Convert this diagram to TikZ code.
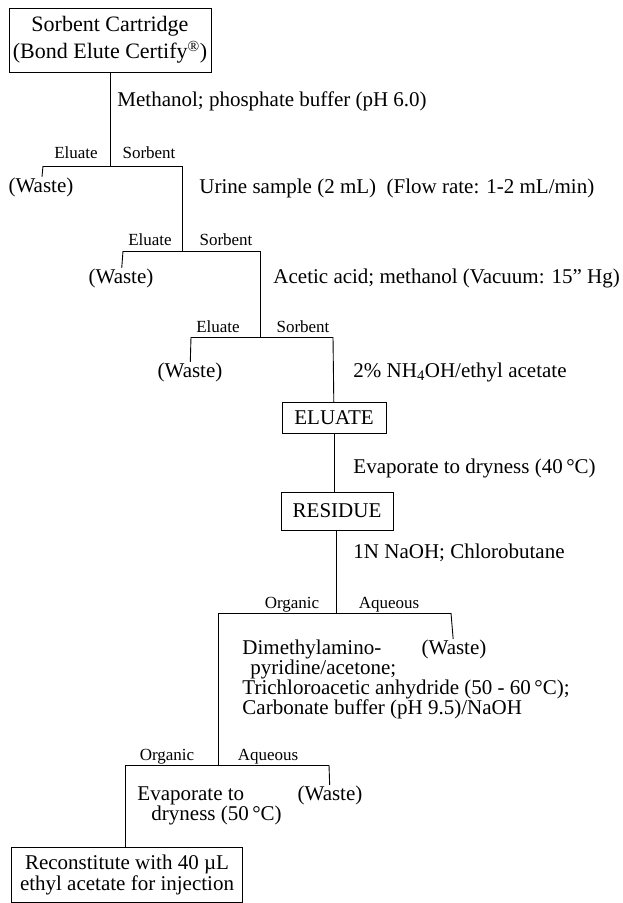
\documentclass[tikz,border=0pt]{standalone}
\usepackage{fontspec}
\setmainfont{Liberation Serif}
\begin{document}
\begin{tikzpicture}[x=1pt,y=-1pt,line width=0.9pt,
  every node/.style={inner sep=0pt,font=\fontsize{21}{21}\selectfont},
  lbl/.style={font=\fontsize{17}{17}\selectfont,anchor=base},
  txt/.style={anchor=base west},
  waste/.style={anchor=base},
  box/.style={draw,line width=0.9pt,align=center}]
\useasboundingbox (0,0) rectangle (623,903);
% top box
\node[box,minimum width=202pt,minimum height=64pt,font=\fontsize{22}{27}\selectfont] (cart) at (110,40)
  {Sorbent Cartridge\\(Bond Elute Certify\textsuperscript{®})};
% T1
\coordinate (j1) at (110,166);
\coordinate (l1) at (43,166);
\coordinate (r1) at (182,166);
\draw (cart) -- (j1);
\draw (l1) -- (r1);
\node[txt] (s1) at (117,106) {Methanol; phosphate buffer (pH 6.0)};
\node[lbl] (e1) at (76,158) {Eluate};
\node[lbl] (o1) at (149,158) {Sorbent};
\node[waste] (w1) at (41,192) {(Waste)};
\draw (l1) -- (w1);
% T2
\coordinate (j2) at (182,251);
\coordinate (l2) at (123,251);
\coordinate (r2) at (260,251);
\draw (r1) -- (j2);
\draw (l2) -- (r2);
\node[txt] (s2) at (199,193) {Urine sample (2 mL)\ \ (Flow rate: 1-2 mL/min)};
\node[lbl] (e2) at (150,245) {Eluate};
\node[lbl] (o2) at (226,245) {Sorbent};
\node[waste] (w2) at (121,283) {(Waste)};
\draw (l2) -- (w2);
% T3
\coordinate (j3) at (260,337);
\coordinate (l3) at (191,337);
\coordinate (r3) at (333,337);
\draw (r2) -- (j3);
\draw (l3) -- (r3);
\node[txt] (s3) at (273,283) {Acetic acid; methanol (Vacuum: 15" Hg)};
\node[lbl] (e3) at (218,332) {Eluate};
\node[lbl] (o3) at (303,332) {Sorbent};
\node[waste] (w3) at (190,377) {(Waste)};
\draw (l3) -- (w3);
\node[txt] (s4) at (353,377) {2\% NH\textsubscript{4}OH/ethyl acetate};
% ELUATE / RESIDUE
\node[box,minimum width=104pt,minimum height=31pt] (eluate) at (334,418) {ELUATE};
\draw (r3) -- (eluate);
\node[txt] (s5) at (353,473) {Evaporate to dryness (40\,°C)};
\node[box,minimum width=112pt,minimum height=38pt] (residue) at (337,511) {RESIDUE};
\draw (eluate) -- (residue.north -| eluate);
\node[txt] (s6) at (353,558) {1N NaOH; Chlorobutane};
% T4
\coordinate (j4) at (336,613);
\coordinate (l4) at (218,613);
\coordinate (r4) at (451,613);
\draw (residue.south -| j4) -- (j4);
\draw (l4) -- (r4);
\node[lbl] (e4) at (292,608) {Organic};
\node[lbl] (o4) at (389,608) {Aqueous};
\node[waste] (w4) at (454,654) {(Waste)};
\draw (r4) -- (w4);
\node[anchor=base west,align=left,font=\fontsize{21}{20}\selectfont] (s7) at (242,714)
  {Dimethylamino-\\\hspace*{8pt}pyridine/acetone;\\Trichloroacetic anhydride (50 - 60\,°C);\\Carbonate buffer (pH 9.5)/NaOH};
% T5
\coordinate (j5) at (218,765);
\coordinate (l5) at (125,765);
\coordinate (r5) at (329,765);
\draw (l4) -- (j5);
\draw (l5) -- (r5);
\node[lbl] (e5) at (167,760) {Organic};
\node[lbl] (o5) at (268,760) {Aqueous};
\node[waste] (w5) at (330,800) {(Waste)};
\draw (r5) -- (w5);
\node[anchor=base west,align=left,font=\fontsize{21}{20}\selectfont] (s8) at (137,820)
  {Evaporate to\\\hspace*{14pt}dryness (50\,°C)};
% final box
\node[box,minimum width=231pt,minimum height=55pt,font=\fontsize{21}{21}\selectfont] (final) at (127,874.5)
  {Reconstitute with 40 µL\\ethyl acetate for injection};
\draw (l5) -- (l5 |- final.north);
\end{tikzpicture}
\end{document}
